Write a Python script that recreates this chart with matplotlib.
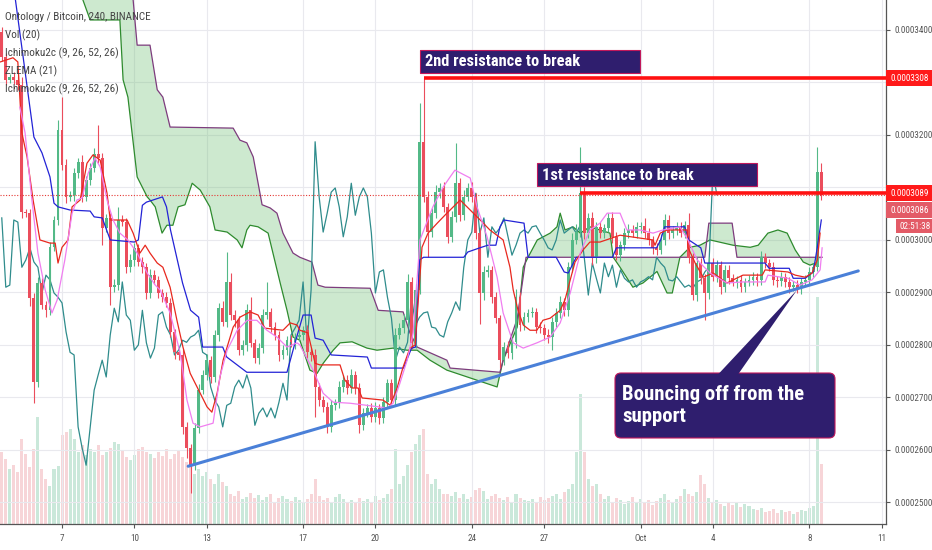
import os
import matplotlib
matplotlib.use("Agg")
import matplotlib.pyplot as plt
import matplotlib.transforms as mtransforms
from matplotlib.patches import Rectangle, FancyBboxPatch, Polygon
from matplotlib import font_manager
from matplotlib.font_manager import FontProperties
import numpy as np

plt.rcParams['font.family'] = ['Liberation Sans', 'DejaVu Sans']

W, H, DPI = 932, 550, 100

# ---------------- data (prices in units of 1e-7 BTC) ----------------
first_open = 3396
closes = [
    3348, 3305, 3310, 3305, 3295, 3053, 3051, 2889, 2729, 2918,
    2876, 2866, 2986, 3038, 3209, 3143, 3082, 3085, 3127, 3148,
    3082, 3114, 3137, 3164, 3156, 3023, 3042, 2910, 2914, 3038,
    3034, 2948, 2962, 2985, 2958, 2948, 2899, 2933, 2924, 2899,
    2891, 2880, 2825, 2786, 2781, 2644, 2604, 2571, 2642, 2714,
    2743, 2771, 2739, 2819, 2870, 2844, 2920, 2857, 2847, 2790,
    2800, 2866, 2804, 2775, 2794, 2857, 2863, 2834, 2819, 2781,
    2790, 2809, 2805, 2815, 2819, 2828, 2786, 2781, 2720, 2695,
    2682, 2644, 2685, 2689, 2720, 2733, 2718, 2743, 2718, 2647,
    2670, 2680, 2663, 2680, 2661, 2691, 2727, 2695, 2819, 2832,
    2847, 2920, 2804, 2905, 3187, 3082, 3015, 3051, 3091, 3099,
    3063, 3006, 3044, 3108, 3047, 3082, 3099, 3082, 3013, 2899,
    2939, 2943, 2891, 2851, 2771, 2796, 2785, 2805, 2891, 2838,
    2853, 2861, 2863, 2834, 2832, 2819, 2815, 2844, 2861, 2882,
    2866, 2948, 3000, 3015, 3089, 3013, 3042, 2967, 3025, 3013,
    3023, 3042, 3006, 2971, 2990, 3013, 3019, 3013, 3025, 3027,
    3013, 3000, 2985, 2981, 3000, 3038, 3013, 3019, 3025, 3013,
    3028, 2966, 2895, 2956, 2927, 2899, 2956, 2930, 2952, 2910,
    2943, 2927, 2920, 2924, 2910, 2920, 2924, 2930, 2924, 2967,
    2956, 2948, 2924, 2922, 2930, 2920, 2910, 2914, 2908, 2920,
    2924, 2939, 2948, 3129, 3086,
]
upper_wick = [
    10, 8, 6, 9, 7, 15, 6, 8, 10, 12,
    9, 7, 10, 8, 20, 63, 12, 8, 10, 9,
    14, 8, 10, 12, 55, 10, 8, 9, 12, 25,
    10, 8, 12, 9, 7, 10, 8, 11, 9, 8,
    7, 9, 10, 6, 8, 12, 9, 8, 10, 12,
    9, 11, 8, 10, 9, 14, 57, 17, 9, 8,
    10, 12, 25, 8, 9, 11, 57, 8, 10, 7,
    9, 8, 10, 7, 9, 8, 10, 9, 12, 8,
    7, 9, 10, 8, 12, 9, 10, 11, 8, 9,
    10, 8, 9, 12, 7, 10, 8, 9, 14, 10,
    12, 15, 9, 11, 74, 121, 12, 10, 14, 9,
    11, 8, 12, 77, 10, 14, 9, 11, 8, 10,
    12, 9, 8, 10, 7, 9, 11, 8, 15, 10,
    9, 8, 10, 7, 9, 8, 11, 10, 9, 12,
    8, 10, 14, 16, 88, 12, 9, 11, 10, 9,
    8, 10, 12, 9, 8, 10, 11, 9, 10, 8,
    15, 9, 8, 10, 11, 12, 9, 8, 10, 9,
    8, 23, 10, 12, 9, 8, 11, 10, 9, 8,
    10, 9, 8, 7, 9, 8, 10, 9, 8, 12,
    9, 8, 10, 7, 9, 8, 10, 7, 9, 8,
    9, 10, 8, 48, 17,
]
lower_wick = [
    8, 9, 7, 8, 10, 12, 8, 15, 40, 10,
    8, 12, 9, 7, 10, 9, 11, 8, 10, 9,
    10, 8, 9, 7, 10, 33, 8, 34, 10, 9,
    8, 10, 9, 11, 8, 10, 12, 9, 8, 10,
    9, 8, 10, 12, 9, 14, 20, 53, 10, 9,
    8, 10, 12, 9, 11, 8, 10, 9, 12, 10,
    9, 11, 8, 10, 12, 9, 8, 10, 9, 11,
    8, 10, 9, 12, 8, 9, 10, 11, 57, 12,
    10, 12, 9, 8, 10, 9, 11, 10, 12, 15,
    9, 8, 10, 9, 11, 10, 12, 9, 10, 8,
    9, 11, 12, 10, 8, 9, 48, 10, 9, 11,
    10, 12, 9, 10, 11, 9, 8, 10, 12, 60,
    14, 10, 12, 9, 15, 10, 9, 11, 10, 12,
    9, 10, 8, 11, 9, 10, 12, 25, 10, 9,
    11, 10, 9, 8, 10, 12, 9, 14, 10, 9,
    10, 8, 11, 9, 12, 10, 9, 8, 10, 11,
    9, 10, 12, 9, 8, 10, 11, 9, 10, 8,
    9, 10, 9, 12, 10, 52, 11, 9, 10, 12,
    9, 10, 8, 11, 9, 10, 8, 9, 11, 10,
    9, 8, 10, 12, 9, 10, 11, 8, 9, 10,
    8, 9, 10, 8, 10,
]
volumes = [
    72, 65, 55, 59, 52, 85, 70, 57, 75, 107, 55, 45, 38, 55, 58, 89, 92, 95, 85, 72,
    79, 69, 75, 72, 79, 69, 72, 76, 82, 80, 73, 67, 64, 69, 75, 77, 72,
    70, 66, 72, 68, 75, 65, 70, 74, 67, 62, 58, 50, 55, 48, 52, 45, 40, 50, 42, 38,
    30, 28, 33, 25, 27, 31, 26, 29, 24, 27, 30, 22, 26, 28, 25, 23, 27, 24,
    22, 25, 30, 45, 28, 24, 26, 22, 27, 30, 25, 22, 24, 21, 26, 23, 25, 22, 28, 24,
    26, 30, 35, 75, 40, 48, 59, 72, 80, 89, 95, 50, 40, 45, 35, 30, 30,
    28, 32, 26, 30, 25, 27, 34, 36, 33, 25, 28, 30, 26, 24, 27, 22, 30, 26, 24, 23,
    25, 22, 27, 24, 26, 28, 30, 25, 32, 35, 40, 72, 130, 72, 45, 38, 40,
    30, 25, 28, 22, 26, 24, 20, 23, 27, 21, 25, 22, 24, 19, 23, 26, 30, 24, 22, 25,
    28, 35, 30, 28, 32, 49, 40, 26, 22, 24, 20, 18, 22, 19, 21, 17, 20, 18,
    15, 14, 16, 12, 13, 15, 11, 14, 12, 13, 10, 12, 14, 13, 16, 18, 227, 60,
]

# Ichimoku base line (blue), knots: bar index / price
kijun_t = [3, 8, 10, 12, 13, 14, 17, 22, 23, 25, 27, 33, 34, 35, 36, 40, 41, 42, 45, 47,
           49, 50, 55, 56, 61, 71, 73, 75, 77, 78, 80, 82, 91, 92, 100, 102, 103, 104, 105,
           115, 116, 119, 121, 123, 124, 125, 130, 131, 138, 140, 141, 143, 152, 153, 163,
           164, 165, 170, 171, 174, 175, 190, 191, 196, 197, 200, 202, 203, 204]
kijun_v = [3480, 3196, 3166, 3120, 3070, 3063, 3057, 3055, 3044, 3042, 3000, 2996, 3000, 3066,
           3072, 3082, 3063, 3019, 2918, 2866, 2853, 2796, 2796, 2777, 2748, 2748, 2804, 2857,
           2857, 2813, 2809, 2781, 2777, 2756, 2756, 2794, 2796, 2962, 2967, 2967, 2977, 2985,
           2990, 2990, 3025, 3038, 3032, 2967, 2967, 2939, 2937, 2967, 2967, 2985, 2985, 3000,
           3025, 3025, 3000, 2985, 2956, 2956, 2946, 2946, 2927, 2927, 2939, 2986, 3038]

# Ichimoku conversion line (red)
tenkan_t = [-0.4, 2.8, 4.0, 5.0, 6.3, 7.8, 9.5, 12.0, 13.3, 14.0, 15.0, 16.5, 17.5, 19.5, 21.2,
            22.7, 24.5, 26.2, 27.0, 31.2, 32.7, 34.4, 35.7, 36.9, 38.7, 40.1, 41.9, 43.6, 45.1,
            46.9, 49.4, 51.1, 52.3, 53.6, 55.1, 57.6, 59.3, 61.8, 63.8, 65.5, 70.0, 71.8, 73.5,
            74.2, 76.2, 78.0, 79.2, 84.2, 85.4, 87.2, 88.7, 89.7, 94.9, 96.7, 98.4, 99.9, 101.6,
            102.9, 104.6, 106.1, 108.4, 110.8, 111.6, 114.1, 119.1, 121.5, 124.8, 126.5, 127.3,
            128.5, 129.8, 131.5, 133.2, 134.7, 136.5, 139.0, 140.2, 141.5, 142.7, 144.7, 146.4,
            148.9, 153.9, 162.1, 162.6, 163.9, 165.6, 170.6, 170.8, 172.6, 174.6, 177.1, 180.5,
            184.5, 189.3, 190.0, 195.7, 197.5, 200.0, 201.7, 203.0, 203.7]
tenkan_v = [3339, 3347, 3339, 3204, 3158, 3076, 3000, 2994, 2994, 2956, 2986, 3000, 3063, 3076,
            3146, 3162, 3152, 3089, 3038, 3038, 3013, 2975, 2990, 2975, 2956, 2948, 2910, 2847,
            2796, 2746, 2708, 2682, 2672, 2708, 2771, 2834, 2853, 2863, 2857, 2832, 2828, 2842,
            2838, 2828, 2823, 2765, 2762, 2762, 2733, 2718, 2718, 2699, 2695, 2685, 2718, 2758,
            2794, 2800, 2986, 3013, 3032, 3051, 3057, 3076, 3038, 3019, 3000, 2948, 2905, 2866,
            2838, 2828, 2828, 2847, 2851, 2866, 2886, 2924, 2958, 2981, 2996, 2996, 3009, 3000,
            2990, 3013, 3019, 3019, 2986, 2956, 2929, 2937, 2918, 2933, 2933, 2943, 2939, 2933,
            2929, 2937, 2962, 3013]

# ZLEMA (21) (pink)
zlema_t = [4.5, 5.8, 7.5, 9.0, 10.8, 12.5, 13.8, 15.7, 17.5, 18.7, 20.0, 21.5, 23.2, 24.5, 26.2,
           27.7, 29.4, 31.4, 33.7, 36.2, 38.2, 39.4, 41.9, 44.4, 46.1, 47.6, 49.4, 52.6, 54.3,
           56.1, 58.6, 61.1, 63.5, 66.0, 68.5, 71.0, 73.5, 74.2, 77.5, 80.0, 82.5, 86.7, 90.9,
           95.9, 97.4, 99.1, 100.9, 102.4, 104.1, 107.3, 109.9, 111.6, 112.8, 116.6, 118.3,
           120.8, 123.3, 124.8, 127.3, 129.8, 133.2, 136.5, 139.0, 141.5, 144.0, 146.4, 148.9,
           150.7, 153.9, 155.6, 158.9, 162.1, 164.6, 168.8, 170.8, 173.1, 176.3, 180.5, 184.5,
           190.0, 190.7, 195.7, 198.7, 201.7, 203.7, 204.2]
zlema_v = [3253, 3204, 3076, 2975, 2905, 2861, 2886, 2962, 3051, 3076, 3080, 3127, 3156, 3139,
           3076, 3038, 3013, 3000, 2975, 2937, 2914, 2905, 2861, 2785, 2695, 2651, 2644, 2651,
           2739, 2790, 2828, 2847, 2847, 2828, 2815, 2796, 2804, 2800, 2752, 2708, 2691, 2689,
           2685, 2680, 2689, 2727, 2771, 2823, 3000, 3063, 3101, 3120, 3133, 3118, 3063, 3006,
           2929, 2861, 2804, 2794, 2804, 2815, 2842, 2899, 2975, 3019, 3032, 3051, 3051, 3019,
           3019, 3013, 3019, 3025, 3000, 2962, 2937, 2918, 2920, 2920, 2933, 2927, 2914, 2924,
           2943, 2985]

# Ichimoku leading span A (green) and span B (purple), already displaced
span_a_t = [19.5, 20.2, 22.0, 29.4, 30.2, 31.4, 33.7, 36.2, 36.9, 38.2, 39.9, 41.1, 42.6, 43.9,
            45.6, 47.4, 49.4, 51.8, 53.1, 56.1, 58.6, 59.8, 61.0, 61.8, 63.8, 66.3, 67.5, 69.3,
            71.0, 72.5, 74.2, 76.7, 78.5, 80.0, 82.5, 84.2, 87.2, 90.9, 93.4, 97.4, 100.9,
            103.4, 106.6, 110.8, 111.6, 123.3, 124.8, 128.3, 129.8, 131.0, 133.3, 136.5, 138.2,
            139.0, 140.2, 142.2, 144.0, 146.4, 148.9, 151.4, 152.2, 153.9, 157.1, 159.6, 163.1,
            165.6, 166.9, 168.8, 171.3, 173.8, 176.3, 182.0, 186.3, 188.3, 190.7, 193.2, 195.5,
            197.5, 199.5, 201.2, 202.5]
span_a_v = [3480, 3457, 3419, 3419, 3305, 3272, 3120, 3082, 3076, 3063, 3013, 3028, 3028, 3063,
            3067, 3108, 3095, 3063, 3019, 3015, 3000, 2985, 3019, 3028, 3025, 3013, 2975, 2918,
            2866, 2815, 2809, 2752, 2746, 2765, 2790, 2804, 2806, 2794, 2790, 2794, 2790, 2790,
            2771, 2752, 2750, 2720, 2771, 2834, 2948, 2967, 3000, 3013, 3025, 3051, 3019, 3025,
            3013, 3025, 3019, 3013, 2967, 2948, 2910, 2918, 2940, 2899, 2899, 2967, 2986, 2990,
            3000, 2990, 2986, 2990, 3013, 3019, 3013, 2981, 2958, 2952, 2956]
span_b_t = [32.0, 32.7, 33.7, 36.9, 38.7, 40.1, 41.9, 57.6, 59.3, 61.0, 62.6, 64.8, 66.8, 68.5,
            70.0, 72.5, 74.2, 77.2, 78.7, 80.5, 91.7, 93.7, 99.9, 101.6, 103.4, 110.8, 111.6,
            124.0, 124.8, 128.3, 130.5, 175.0, 176.0, 181.8, 183.0, 204.2]
span_b_v = [3480, 3457, 3371, 3371, 3286, 3272, 3215, 3213, 3190, 3185, 3158, 3067, 3061, 3051,
            3013, 2975, 2967, 2958, 2914, 2910, 2908, 2866, 2863, 2823, 2796, 2771, 2756, 2748,
            2771, 2850, 2967, 2967, 3032, 3032, 2967, 2967]

lag_periods = 26

date_ticks = [15, 33, 51, 75, 93, 117, 135, 159, 177, 201, 219]
date_labels = ["7", "10", "13", "17", "20", "24", "27", "Oct", "4", "8", "11"]
price_ticks = [2500, 2600, 2700, 2800, 2900, 3000, 3100, 3200, 3300, 3400]
hidden_price_ticks = [3100, 3300]   # covered by the coloured price tags

support_t = [46.4, 213.2]
support_p = [2569, 2941]
res_levels = [3308, 3089]
res_start = [105, 144]
last_price = 3086
countdown = "02:51:38"

legend_lines = ["Ontology / Bitcoin, 240, BINANCE", "Vol (20)", "Ichimoku2c (9, 26, 52, 26)",
                "ZLEMA (21)", "Ichimoku2c (9, 26, 52, 26)"]


# ---------------- fonts: prefer a narrow / condensed sans ----------------
def pick_font(bold):
    prio = ['liberation sans narrow', 'roboto condensed', 'noto sans', 'open sans',
            'dejavu sans', 'roboto', 'lato']
    best, best_score = None, 1e9
    for f in font_manager.fontManager.ttflist:
        fn = os.path.basename(f.fname).lower().replace('-', '').replace('_', '').replace(' ', '')
        nm = f.name.lower()
        txt = nm.replace(' ', '') + fn
        if 'italic' in txt or 'oblique' in txt:
            continue
        if not ('narrow' in txt or 'condensed' in txt):
            continue
        if any(k in txt for k in ('semicondensed', 'extracondensed', 'ultracondensed')):
            continue
        has_bold = 'bold' in fn
        bad_w = any(k in fn for k in ('semibold', 'extrabold', 'ultrabold', 'light', 'thin',
                                       'medium', 'black', 'heavy'))
        if bad_w:
            continue
        if bold != has_bold:
            continue
        score = len(prio)
        for k, p in enumerate(prio):
            if nm.startswith(p):
                score = k
                break
        if score < best_score:
            best, best_score = f.fname, score
    if best is not None:
        return FontProperties(fname=best)
    return FontProperties(family=['Liberation Sans', 'DejaVu Sans'],
                          weight='bold' if bold else 'normal')


FP_REG = pick_font(False)
FP_BOLD = pick_font(True)

# ---------------- derived candle arrays ----------------
closes_a = np.array(closes, dtype=float)
opens_a = np.r_[first_open, closes_a[:-1]]
highs_a = np.maximum(opens_a, closes_a) + np.array(upper_wick)
lows_a = np.minimum(opens_a, closes_a) - np.array(lower_wick)
idx = np.arange(len(closes_a))
up = closes_a >= opens_a
GREEN, RED = '#53b987', '#eb4d5c'
ccol = np.where(up, GREEN, RED)

XLIM = (-0.44, 220.1)
YLIM = (2459, 3457)

fig = plt.figure(figsize=(W / DPI, H / DPI), dpi=DPI)
fig.patch.set_facecolor('white')
rect = [0, 26 / H, 886 / W, 524 / H]
renderer = fig.canvas.get_renderer()


def fitted_size(text, fp, target_w, base=10.0):
    t = fig.text(0, 0, text, fontproperties=fp, fontsize=base)
    w = t.get_window_extent(renderer).width
    t.remove()
    return base * target_w / w


vax = fig.add_axes(rect, zorder=0)
vax.set_xlim(*XLIM)
vax.set_ylim(0, 524)
vax.bar(idx, volumes, width=0.75, color=np.where(up, '#9fd6bd', '#f2b3b9'), alpha=0.55, linewidth=0)
vax.axis('off')

ax = fig.add_axes(rect, zorder=1)
ax.patch.set_visible(False)
ax.set_xlim(*XLIM)
ax.set_ylim(*YLIM)
ax.yaxis.tick_right()
ax.yaxis.set_label_position('right')

tick_fs = fitted_size("0.0003400", FP_REG, 38)
ax.set_xticks(date_ticks)
ax.set_xticklabels(date_labels)
ax.set_yticks(price_ticks)
ax.set_yticklabels(["" if p in hidden_price_ticks else f"{p * 1e-7:.7f}" for p in price_ticks])
ax.tick_params(axis='both', colors='#555555', length=3, width=0.8, direction='out',
               labelsize=tick_fs)
ax.tick_params(axis='y', pad=3, left=False, labelleft=False, right=True, labelright=True)
ax.tick_params(axis='x', pad=4.5)
for tk in ax.xaxis.get_major_ticks() + ax.yaxis.get_major_ticks():
    for lbl in (tk.label1, tk.label2):
        lbl.set_fontproperties(FP_REG)
        lbl.set_fontsize(tick_fs)
ax.grid(True, color='#e9e9ee', lw=0.8)
ax.set_axisbelow(True)
for s in ['top', 'left']:
    ax.spines[s].set_visible(False)
for s in ['right', 'bottom']:
    ax.spines[s].set_color('#555555')
    ax.spines[s].set_linewidth(0.9)

# cloud
ax.fill(np.r_[span_a_t, span_b_t[::-1]], np.r_[span_a_v, span_b_v[::-1]],
        color='#66bb6a', alpha=0.32, lw=0, zorder=1.5)
ax.plot(span_a_t, span_a_v, color='#2e8b2e', lw=0.9, zorder=2)
ax.plot(span_b_t, span_b_v, color='#7d3c7d', lw=0.9, zorder=2)

# lagging span (close displaced back)
ax.plot(idx[lag_periods:] - lag_periods, closes_a[lag_periods:], color='#2f8c8c', lw=0.9, zorder=2)

# candles
ax.vlines(idx, lows_a, highs_a, colors=ccol, lw=0.8, zorder=3)
ax.bar(idx, np.maximum(np.abs(closes_a - opens_a), 2.0), bottom=np.minimum(opens_a, closes_a),
       width=0.72, color=ccol, linewidth=0, zorder=3.5)

# indicator lines
ax.plot(kijun_t, kijun_v, color='#2323d6', lw=0.9, zorder=4)
ax.plot(tenkan_t, tenkan_v, color='#e8281e', lw=0.9, zorder=4)
ax.plot(zlema_t, zlema_v, color='#f07ef0', lw=0.9, zorder=4)

# price line and levels
ax.axhline(last_price, color='#e53935', lw=0.8, ls=(0, (1, 1.5)), zorder=4.5)
for lvl, st in zip(res_levels, res_start):
    ax.hlines(lvl, st, XLIM[1], color='#ff1111', lw=2.6, zorder=6)
ax.plot(support_t, support_p, color='#4a80d8', lw=2.2, solid_capstyle='round', zorder=6)

# ---------------- text & annotations (pixel coordinates from top-left) ----------------
pix = mtransforms.Affine2D().scale(1, -1).translate(0, H)


def ypix(p):
    return H - ax.transData.transform((0, p))[1]


leg_fs = fitted_size(legend_lines[0], FP_REG, 145)
for k, t in enumerate(legend_lines):
    fig.text(5, 17 + 18 * k, t, transform=pix, fontproperties=FP_REG, fontsize=leg_fs,
             color='#444444', va='center', ha='left', zorder=20)

BOX = '#2f1e6e'
EDGE = '#c2185b'
res_fs = fitted_size("2nd resistance to break", FP_BOLD, 155)
ax.add_patch(Rectangle((420, 50), 220, 23, transform=pix, fc=BOX, ec=EDGE, lw=0.8,
                       clip_on=False, zorder=20))
ax.text(425, 62, "2nd resistance to break", transform=pix, color='white', fontproperties=FP_BOLD,
        fontsize=res_fs, va='center', ha='left', zorder=21)
ax.add_patch(Rectangle((537, 163), 220, 23, transform=pix, fc=BOX, ec=EDGE, lw=0.8,
                       clip_on=False, zorder=20))
ax.text(542, 175, "1st resistance to break", transform=pix, color='white', fontproperties=FP_BOLD,
        fontsize=res_fs, va='center', ha='left', zorder=21)

call_fs = fitted_size("Bouncing off from the", FP_BOLD, 181)
ax.add_patch(FancyBboxPatch((615, 373), 220, 65, boxstyle='round,pad=0,rounding_size=6',
                            transform=pix, fc=BOX, ec=EDGE, lw=0.8, clip_on=False, zorder=20))
ax.add_patch(Polygon([(718, 374.5), (738, 374.5), (797, 290)], closed=True, transform=pix,
                     fc=BOX, ec='none', clip_on=False, zorder=21))
ax.text(622, 395, "Bouncing off from the", transform=pix, color='white', fontproperties=FP_BOLD,
        fontsize=call_fs, va='center', ha='left', zorder=22)
ax.text(622, 416, "support", transform=pix, color='white', fontproperties=FP_BOLD,
        fontsize=call_fs, va='center', ha='left', zorder=22)


# right-hand price tags
def price_box(yc, h, x0, text, fc):
    ax.add_patch(Rectangle((x0, yc - h / 2), W - x0, h, transform=pix, fc=fc, ec='none',
                           clip_on=False, zorder=30))
    ax.text((x0 + W) / 2 + 1, yc, text, transform=pix, color='white', fontproperties=FP_REG,
            fontsize=tick_fs, va='center', ha='center', zorder=31)


y3308 = ypix(res_levels[0])
y3089 = ypix(res_levels[1])
price_box(y3308, 16, 886, f"{res_levels[0] * 1e-7:.7f}", '#ff1a1a')
price_box(y3089, 16, 886, f"{res_levels[1] * 1e-7:.7f}", '#ff1a1a')
price_box(y3089 + 17, 16, 886, f"{last_price * 1e-7:.7f}", '#e35b67')
price_box(y3089 + 33, 14, 896, countdown, '#e35b67')

fig.savefig("out.png", dpi=DPI, facecolor='white')
